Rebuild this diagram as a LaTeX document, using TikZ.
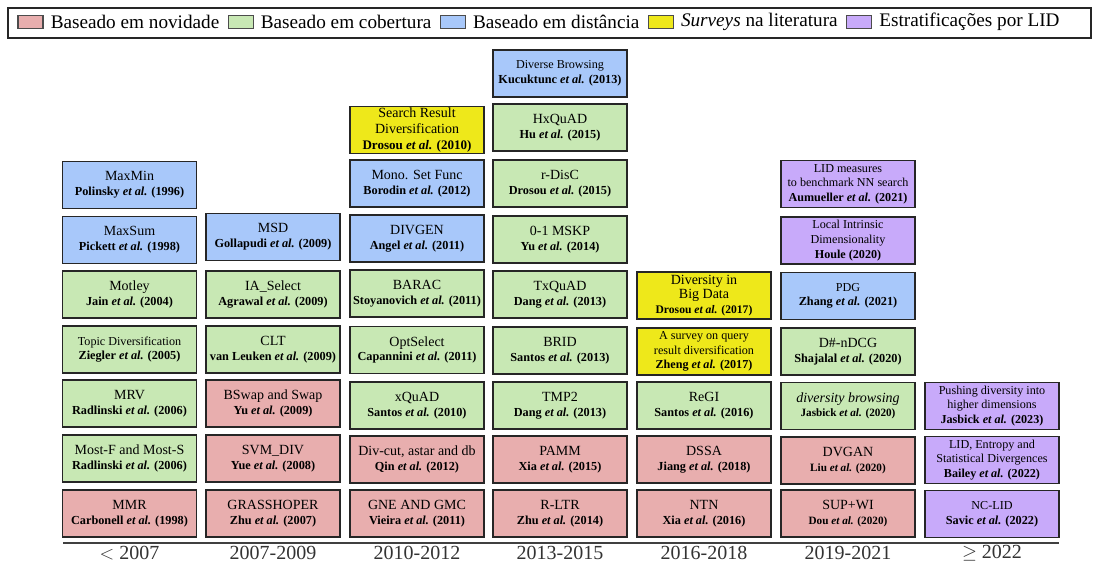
\documentclass[tikz,border=0pt]{standalone}
\usepackage{fontspec}
\setmainfont{Liberation Serif}
\usetikzlibrary{positioning}

\definecolor{novcol}{HTML}{E8AEAE}
\definecolor{covcol}{HTML}{C8E8B4}
\definecolor{discol}{HTML}{A8C8FA}
\definecolor{surcol}{HTML}{EEE81A}
\definecolor{lidcol}{HTML}{C8AAFA}

\newcommand{\etal}{\textit{et al.}}
\newcommand{\au}[1]{{\fontsize{9.2}{11}\selectfont\bfseries #1}}
\newcommand{\aus}[1]{{\fontsize{8.4}{11}\selectfont\bfseries #1}}
\newcommand{\tsm}{\fontsize{9.1}{11}\selectfont}

\tikzset{
  paper/.style={draw=black!85, line width=1.1pt, minimum width=100.5pt,
    minimum height=35.25pt, inner sep=0.5pt, align=center,
    font=\fontsize{10.5}{11}\selectfont},
  novbox/.style={paper, fill=novcol},
  covbox/.style={paper, fill=covcol},
  disbox/.style={paper, fill=discol},
  surbox/.style={paper, fill=surcol},
  lidbox/.style={paper, fill=lidcol},
  legframe/.style={draw=black!85, line width=1.3pt, minimum width=812.25pt,
    minimum height=22.5pt, inner sep=0pt},
  swatch/.style={draw=black!70, line width=0.8pt, minimum width=18.75pt,
    minimum height=9.75pt, inner sep=0pt},
  legtext/.style={anchor=west, inner sep=0pt, font=\fontsize{14.4}{16}\selectfont},
  yeartext/.style={font=\fontsize{15}{16}\selectfont, text=black!80},
  axisline/.style={draw=black!75, line width=1.1pt}
}

\begin{document}
\begin{tikzpicture}[x=0.75pt,y=-0.75pt]
    \useasboundingbox (0,0) rectangle (1097,563);
    % Legend
    \node[legframe] (legend) at (549.5,23) {};
    \node[swatch, fill=novcol] (swnov) at (30.5,22) {};
    \node[legtext, right=5.25pt of swnov] (txnov) {Baseado em novidade};
    \node[swatch, fill=covcol, right=6pt of txnov] (swcov) {};
    \node[legtext, right=5.25pt of swcov] (txcov) {Baseado em cobertura};
    \node[swatch, fill=discol, right=6pt of txcov] (swdis) {};
    \node[legtext, right=5.25pt of swdis] (txdis) {Baseado em distância};
    \node[swatch, fill=surcol, right=6pt of txdis] (swsur) {};
    \node[legtext, right=5.25pt of swsur] (txsur) {\textit{Surveys} na literatura};
    \node[swatch, fill=lidcol, right=6pt of txsur] (swlid) {};
    \node[legtext, right=5.25pt of swlid] (txlid) {Estratificações por LID};

    % < 2007
    \node[disbox] (maxmin) at (129.5,185) {MaxMin\\\au{Polinsky \etal{} (1996)}};
    \node[disbox] (maxsum) at (129.5,240) {MaxSum\\\au{Pickett \etal{} (1998)}};
    \node[covbox] (motley) at (129.5,294.5) {Motley\\\au{Jain \etal{} (2004)}};
    \node[covbox] (topic) at (129.5,349.5) {{\tsm Topic Diversification}\\\au{Ziegler \etal{} (2005)}};
    \node[covbox] (mrv) at (129.5,403.5) {MRV\\\au{Radlinski \etal{} (2006)}};
    \node[covbox] (mostf) at (129.5,458.5) {Most-F and Most-S\\\au{Radlinski \etal{} (2006)}};
    \node[novbox] (mmr) at (129.5,513.5) {MMR\\\au{Carbonell \etal{} (1998)}};

    % 2007-2009
    \node[disbox] (msd) at (273,237) {MSD\\\au{Gollapudi \etal{} (2009)}};
    \node[covbox] (iasel) at (273,294.5) {IA\_Select\\\au{Agrawal \etal{} (2009)}};
    \node[covbox] (clt) at (273,349.5) {CLT\\\au{van Leuken \etal{} (2009)}};
    \node[novbox] (bswap) at (273,403.5) {BSwap and Swap\\\au{Yu \etal{} (2009)}};
    \node[novbox] (svmdiv) at (273,458.5) {SVM\_DIV\\\au{Yue \etal{} (2008)}};
    \node[novbox] (grass) at (273,513.5) {GRASSHOPER\\\au{Zhu \etal{} (2007)}};

    % 2010-2012
    \node[surbox, font=\fontsize{10.5}{11.8}\selectfont] (srd) at (417,130)
        {Search Result\\Diversification\\{\fontsize{9.8}{11.8}\selectfont\bfseries Drosou \etal{} (2010)}};
    \node[disbox] (mono) at (417,183.5) {Mono. Set Func\\\au{Borodin \etal{} (2012)}};
    \node[disbox] (divgen) at (417,238.5) {DIVGEN\\\au{Angel \etal{} (2011)}};
    \node[covbox] (barac) at (417,293.5) {BARAC\\\au{Stoyanovich \etal{} (2011)}};
    \node[covbox] (optsel) at (417,350) {OptSelect\\\au{Capannini \etal{} (2011)}};
    \node[covbox] (xquad) at (417,405.5) {xQuAD\\\au{Santos \etal{} (2010)}};
    \node[novbox] (divcut) at (417,459.5) {Div-cut, astar and db\\\au{Qin \etal{} (2012)}};
    \node[novbox] (gne) at (417,513.5) {GNE AND GMC\\\au{Vieira \etal{} (2011)}};

    % 2013-2015
    \node[disbox] (dbrow) at (560,73.5) {{\tsm Diverse Browsing}\\\au{Kucuktunc \etal{} (2013)}};
    \node[covbox] (hxquad) at (560,127.5) {HxQuAD\\\au{Hu \etal{} (2015)}};
    \node[covbox] (rdisc) at (560,183.5) {r-DisC\\\au{Drosou \etal{} (2015)}};
    \node[covbox] (mskp) at (560,239.5) {0-1 MSKP\\\au{Yu \etal{} (2014)}};
    \node[covbox] (txquad) at (560,294.5) {TxQuAD\\\au{Dang \etal{} (2013)}};
    \node[covbox] (brid) at (560,350.5) {BRID\\\au{Santos \etal{} (2013)}};
    \node[covbox] (tmp2) at (560,405.5) {TMP2\\\au{Dang \etal{} (2013)}};
    \node[novbox] (pamm) at (560,459.5) {PAMM\\\au{Xia \etal{} (2015)}};
    \node[novbox] (rltr) at (560,513.5) {R-LTR\\\au{Zhu \etal{} (2014)}};

    % 2016-2018
    \node[surbox] (bigdata) at (704,295.5)
        {Diversity in\\Big Data\\{\fontsize{8.7}{11}\selectfont\bfseries Drosou \etal{} (2017)}};
    \node[surbox, font=\tsm] (qsurv) at (704,351.5)
        {A survey on query\\result diversification\\\textbf{Zheng \etal{} (2017)}};
    \node[covbox] (regi) at (704,405.5) {ReGI\\\au{Santos \etal{} (2016)}};
    \node[novbox] (dssa) at (704,459.5) {DSSA\\\au{Jiang \etal{} (2018)}};
    \node[novbox] (ntn) at (704,513.5) {NTN\\\au{Xia \etal{} (2016)}};

    % 2019-2021
    \node[lidbox, font=\tsm] (lidbench) at (848,184)
        {LID measures\\to benchmark NN search\\\textbf{Aumueller \etal{} (2021)}};
    \node[lidbox, font=\tsm] (lidhoule) at (848,240.5)
        {Local Intrinsic\\Dimensionality\\\textbf{Houle (2020)}};
    \node[disbox] (pdg) at (848,296) {{\tsm PDG}\\\au{Zhang \etal{} (2021)}};
    \node[covbox] (dndcg) at (848,351.5) {D\#-nDCG\\\au{Shajalal \etal{} (2020)}};
    \node[covbox] (divbrow) at (848,406) {\textit{diversity browsing}\\\aus{Jasbick \etal{} (2020)}};
    \node[novbox] (dvgan) at (848,460.5) {DVGAN\\\aus{Liu \etal{} (2020)}};
    \node[novbox] (supwi) at (848,513.5) {SUP+WI\\\aus{Dou \etal{} (2020)}};

    % >= 2022
    \node[lidbox, font=\tsm] (pushing) at (992,406)
        {Pushing diversity into\\higher dimensions\\\textbf{Jasbick \etal{} (2023)}};
    \node[lidbox, font=\tsm] (lident) at (992,460)
        {LID, Entropy and\\Statistical Divergences\\\textbf{Bailey \etal{} (2022)}};
    \node[lidbox] (nclid) at (992,514) {{\tsm NC-LID}\\\au{Savic \etal{} (2022)}};

    % Time axis and periods
    \coordinate (axisL) at (63,543);
    \coordinate (axisR) at (1059,543);
    \draw[axisline] (axisL) -- (axisR);
    \node[yeartext] (yr1) at (129.5,553) {$<$ 2007};
    \node[yeartext] (yr2) at (273,553) {2007-2009};
    \node[yeartext] (yr3) at (417,553) {2010-2012};
    \node[yeartext] (yr4) at (560,553) {2013-2015};
    \node[yeartext] (yr5) at (704,553) {2016-2018};
    \node[yeartext] (yr6) at (848,553) {2019-2021};
    \node[yeartext] (yr7) at (992,553) {$\geq$ 2022};
\end{tikzpicture}
\end{document}
